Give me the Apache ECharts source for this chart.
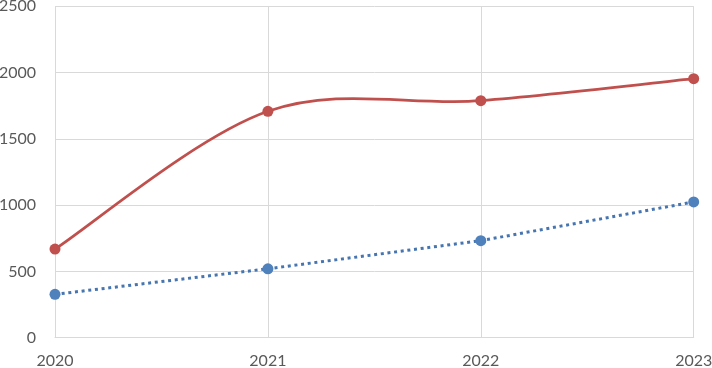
<!DOCTYPE html>
<html><head><meta charset="utf-8">
<script src="https://cdn.jsdelivr.net/npm/echarts@6/dist/echarts.min.js"></script>
<style>html,body{margin:0;padding:0;background:#fff}#c{width:712px;height:368px}</style>
</head><body><div id="c"></div>
<script>
var categories = ['2020', '2021', '2022', '2023'];
var redValues = [669, 1708, 1788, 1954];
var blueValues = [327, 520, 732, 1024];
var yTicks = [0, 500, 1000, 1500, 2000, 2500];

var chart = echarts.init(document.getElementById('c'), null, {renderer: 'canvas'});
var font = 'Lato, "Open Sans", sans-serif';

function redCurveItem(params, api) {
  var i = params.dataIndex;
  var n = redValues.length;
  if (i >= n - 1) return null;
  function pt(k) {
    k = Math.max(0, Math.min(n - 1, k));
    return api.coord([k, redValues[k]]);
  }
  var p0 = pt(i - 1), p1 = pt(i), p2 = pt(i + 1), p3 = pt(i + 2);
  var c1 = [p1[0] + (p2[0] - p0[0]) / 6, p1[1] + (p2[1] - p0[1]) / 6];
  var c2 = [p2[0] - (p3[0] - p1[0]) / 6, p2[1] - (p3[1] - p1[1]) / 6];
  return {
    type: 'bezierCurve',
    shape: {x1: p1[0], y1: p1[1], cpx1: c1[0], cpy1: c1[1], cpx2: c2[0], cpy2: c2[1], x2: p2[0], y2: p2[1]},
    style: {stroke: '#C0504D', lineWidth: 2.75, fill: null}
  };
}

chart.setOption({
  animation: false,
  backgroundColor: '#ffffff',
  grid: {left: 55, right: 18.3, top: 6.3, bottom: 30.3, containLabel: false, outerBoundsMode: 'none'},
  xAxis: {
    type: 'category', data: categories, boundaryGap: false,
    axisLine: {show: true, lineStyle: {color: '#D9D9D9', width: 1}},
    axisTick: {show: false},
    axisLabel: {color: '#595959', fontSize: 16, fontFamily: font, margin: 15},
    splitLine: {show: true, lineStyle: {color: '#D9D9D9', width: 1}}
  },
  yAxis: {
    type: 'value', min: yTicks[0], max: yTicks[yTicks.length - 1], interval: 500,
    axisLine: {show: false}, axisTick: {show: false},
    axisLabel: {color: '#595959', fontSize: 16, fontFamily: font, margin: 19,
      formatter: function (v) { return String(v); }},
    splitLine: {show: true, lineStyle: {color: '#D9D9D9', width: 1}}
  },
  series: [
    {
      type: 'line', data: blueValues, smooth: false,
      symbol: 'circle', symbolSize: 11,
      itemStyle: {color: '#4F81BD'},
      lineStyle: {color: '#4675B0', width: 3, type: [3, 3.7]}
    },
    {
      type: 'custom', renderItem: redCurveItem,
      data: redValues.map(function (v, k) { return [k, v]; }),
      encode: {x: 0, y: 1}, silent: true
    },
    {
      type: 'line', data: redValues,
      symbol: 'circle', symbolSize: 11,
      itemStyle: {color: '#C0504D'},
      lineStyle: {width: 0, opacity: 0}
    }
  ]
});
</script></body></html>
